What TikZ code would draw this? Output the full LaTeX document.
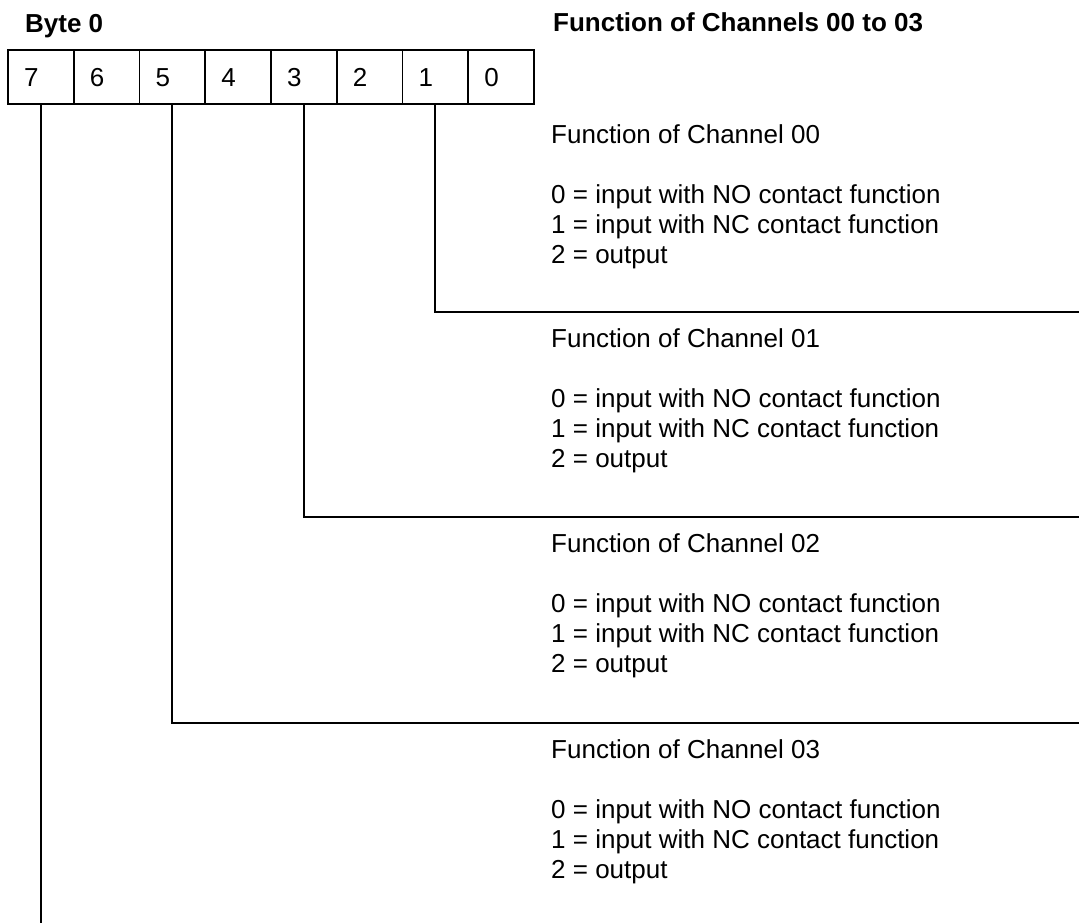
\documentclass[tikz,border=0pt]{standalone}
\usepackage{fontspec}
\setmainfont{Liberation Sans}
\usepackage{tikz}
\usetikzlibrary{calc}

\tikzset{
  txt/.style={font=\fontsize{26}{30}\selectfont, inner sep=0pt, anchor=base west},
  bold/.style={txt, font=\fontsize{26}{30}\selectfont\bfseries},
  cell/.style={draw, line width=1.8pt, outer sep=0pt, minimum height=54pt,
    text width=33.75pt, inner xsep=16pt, align=left,
    text height=19pt, text depth=0pt,
    font=\fontsize{26}{30}\selectfont},
  wire/.style={line width=1.8pt}
}

\begin{document}
\begin{tikzpicture}[x=1pt,y=-1pt]
\useasboundingbox (0,0) rectangle (1079,923);

% Byte layout
\node[bold] (byte) at (25,33) {Byte 0};
\node[bold] (title) at (553,32) {Function of Channels 00 to 03};
\foreach \b [count=\i from 0] in {7,6,5,4,3,2,1,0}
{
    \node[cell] (b\b) at ({8+65.75*(\i+0.5)},77) {\b};
}

% Channel descriptions
\foreach \c/\y in {00/143,01/347,02/552,03/758}
{
    \node[txt] (h\c) at (551,\y) {Function of Channel \c};
    \node[txt] (no\c) at (551,{\y+60}) {0 = input with NO contact function};
    \node[txt] (nc\c) at (551,{\y+90}) {1 = input with NC contact function};
    \node[txt] (out\c) at (551,{\y+120}) {2 = output};
}

% Leader lines
\coordinate (r1) at (1079,312);
\coordinate (r3) at (1079,517);
\coordinate (r5) at (1079,723);
\coordinate (e7) at (41,923);
\draw[wire] (b1.south) |- (r1);
\draw[wire] (b3.south) |- (r3);
\draw[wire] (b5.south) |- (r5);
\draw[wire] (b7.south) -- (b7.south |- e7);
\end{tikzpicture}
\end{document}
